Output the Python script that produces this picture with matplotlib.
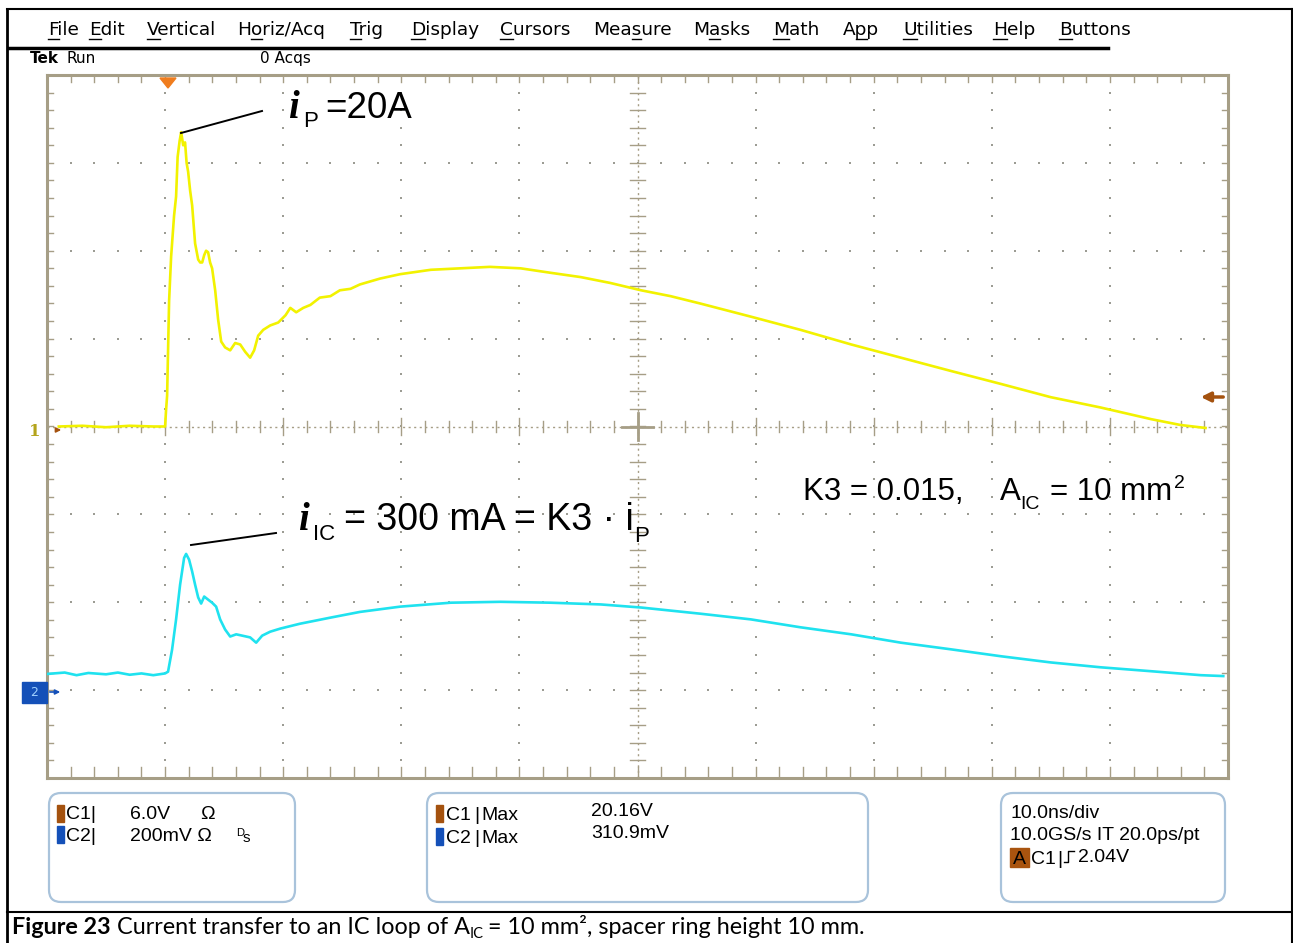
"""Oszilloskop-Screenshot nachgebaut: Stromuebertragung auf IC-Schleife (Figure 23)."""
import numpy as np
import matplotlib
matplotlib.use("Agg")
import matplotlib.pyplot as plt
from matplotlib.patches import FancyBboxPatch, Rectangle, Polygon
from matplotlib.font_manager import FontProperties

W, H = 1293, 943

c1_t = [-9.0, -7.0, -5.0, -3.0, -1.0, 0.0, 0.08, 0.17, 0.34, 0.51, 0.76, 0.93, 1.06, 1.23, 1.36,
        1.53, 1.69, 1.82, 1.95, 2.12, 2.29, 2.54, 2.80, 2.97, 3.14, 3.31, 3.47, 3.64, 3.81, 3.98,
        4.24, 4.49, 4.75, 5.08, 5.51, 5.93, 6.36, 6.78, 7.20, 7.54, 7.88, 8.31, 8.90, 9.58, 10.2,
        10.6, 11.1, 11.7, 12.3, 13.1, 14.0, 14.8, 15.7, 16.5, 18.2, 19.9, 22.5, 25.0, 27.5, 30.1,
        32.6, 35.2, 37.7, 40.3, 42.8, 45.3, 49.6, 53.8, 58.1, 62.3, 66.5, 70.8, 75.0, 79.2, 83.5,
        86.0, 88.1]
c1_v = [0.0, 0.05, -0.05, 0.05, 0.0, 0.0, 1.1, 2.1, 8.6, 11.6, 14.4, 15.7, 18.4, 19.5, 20.1,
        19.2, 19.4, 18.0, 17.4, 16.1, 15.1, 12.5, 11.4, 11.2, 11.2, 11.7, 12.0, 11.9, 11.2, 10.8,
        9.3, 7.3, 5.8, 5.4, 5.2, 5.7, 5.6, 5.1, 4.7, 5.2, 6.2, 6.6, 6.9, 7.1, 7.6,
        8.1, 7.8, 8.1, 8.3, 8.8, 8.9, 9.3, 9.4, 9.7, 10.1, 10.4, 10.7, 10.8, 10.9, 10.8,
        10.5, 10.2, 9.8, 9.3, 8.9, 8.4, 7.5, 6.6, 5.6, 4.7, 3.8, 2.9, 2.0, 1.3, 0.5,
        0.1, -0.1]

c2_t = [-9.9, -8.5, -7.5, -6.5, -5.0, -4.0, -3.0, -2.0, -1.0, 0.0, 0.25, 0.59, 0.93, 1.27, 1.61,
        1.78, 2.03, 2.29, 2.54, 2.80, 3.05, 3.31, 3.64, 3.98, 4.32, 4.66, 5.08, 5.51, 6.02, 6.53,
        7.20, 7.71, 8.22, 8.90, 9.75, 11.4, 14.0, 16.5, 19.9, 24.2, 28.4, 32.6, 36.9, 40.3, 45.3,
        49.6, 53.8, 58.1, 62.3, 66.5, 70.8, 75.0, 79.2, 83.5, 87.7, 89.6]
c2_mv = [37, 40, 34, 39, 36, 40, 35, 38, 34, 38, 42, 92, 161, 240, 301,
         310, 297, 270, 240, 211, 197, 213, 206, 199, 190, 161, 138, 122, 127, 124,
         120, 108, 124, 133, 140, 151, 165, 178, 190, 199, 201, 199, 195, 188, 174,
         161, 143, 127, 108, 93, 77, 63, 52, 43, 34, 32]

C1_SCALE, C2_SCALE = 6.0, 200.0      # V/div, mV/div
C2_POS = -3.0                         # div

menu = ["File", "Edit", "Vertical", "Horiz/Acq", "Trig", "Display", "Cursors", "Measure",
        "Masks", "Math", "App", "Utilities", "Help", "Buttons"]
menu_x = [48, 89, 147, 237, 350, 411, 500, 593, 693, 773, 843, 903, 993, 1059]
menu_ul = [0, 0, 0, 1, 0, 0, 0, 3, 1, 0, 1, 0, 0, 0]

BROWN = "#a4520f"
BLUE = "#1450b8"
GRID = "#9c9c94"
FRAME = "#a69e86"

fig = plt.figure(figsize=(W / 100, H / 100), dpi=100)
fig.patch.set_facecolor("white")
rend = fig.canvas.get_renderer()

ui = fig.add_axes([0, 0, 1, 1], zorder=0)
ui.set_xlim(0, W); ui.set_ylim(H, 0); ui.axis("off")


def fp(size, family="Liberation Sans", weight="normal", style="normal"):
    return FontProperties(family=family, size=size, weight=weight, style=style)


def chain(axis, x, y, pieces):
    """Textstuecke nebeneinander setzen: (text, FontProperties, dy, Abstand danach)."""
    for s, prop, dy, gap in pieces:
        axis.text(x, y + dy, s, fontproperties=prop, va="baseline", ha="left")
        x += rend.get_text_width_height_descent(s, prop, ismath=False)[0] + gap
    return x


# --- Rahmen / Menue ---
ui.plot([7, 7], [9, H], color="black", lw=2)
ui.plot([7, W], [9, 9], color="black", lw=1.5)
ui.plot([W - 1, W - 1], [9, H], color="black", lw=1.5)
ui.plot([7, W], [912, 912], color="black", lw=1.5)
ui.plot([9, 1108], [48, 48], color="black", lw=2.5)

mfont = fp(13.3, "DejaVu Sans")
for s, x, k in zip(menu, menu_x, menu_ul):
    ui.text(x, 35, s, fontproperties=mfont, va="baseline", ha="left")
    w0 = rend.get_text_width_height_descent(s[:k], mfont, ismath=False)[0] if k else 0
    w1 = rend.get_text_width_height_descent(s[:k + 1], mfont, ismath=False)[0]
    ui.plot([x + w0, x + w1], [38.5, 38.5], color="black", lw=1)

ui.text(30, 63, "Tek", fontsize=11, fontweight="bold", family="DejaVu Sans", va="baseline")
ui.text(66, 63, "Run", fontsize=11, family="DejaVu Sans", va="baseline")
ui.text(260, 63, "0 Acqs", fontsize=11, family="DejaVu Sans", va="baseline")

# --- Graticule ---
ax = fig.add_axes([47 / W, 1 - 778 / H, 1181 / W, 703 / H], zorder=1)
ax.set_facecolor("none")
ax.set_xlim(-10, 90); ax.set_ylim(-4, 4)
ax.set_xticks([]); ax.set_yticks([])
for sp in ax.spines.values():
    sp.set_color(FRAME); sp.set_linewidth(2.2)

ymin = np.arange(-4, 4.001, 0.2)
xmin = np.arange(-10, 90.001, 2)
for xv in range(0, 90, 10):
    if xv == 40:
        continue
    ax.plot([xv] * len(ymin), ymin, ls="none", marker="s", ms=1.5, mew=0, color=GRID)
for yv in range(-3, 4):
    if yv == 0:
        continue
    ax.plot(xmin, [yv] * len(xmin), ls="none", marker="s", ms=1.5, mew=0, color=GRID)

# Mittelachsen mit Teilstrichen
ax.plot([-10, 90], [0, 0], color=FRAME, lw=1, ls=(0, (1.5, 2.5)))
ax.plot([40, 40], [-4, 4], color=FRAME, lw=1, ls=(0, (1.5, 2.5)))
for xv in xmin:
    h = 0.1 if abs(xv / 10 - round(xv / 10)) < 1e-6 else 0.06
    ax.plot([xv, xv], [-h, h], color=FRAME, lw=1)
    ax.plot([xv, xv], [-4, -4 + 0.12], color=FRAME, lw=1)
    ax.plot([xv, xv], [4, 4 - 0.08], color=FRAME, lw=1)
for yv in ymin:
    ax.plot([40 - 0.6, 40 + 0.6], [yv, yv], color=FRAME, lw=1)
    ax.plot([-10, -9.5], [yv, yv], color=FRAME, lw=1)
    ax.plot([89.5, 90], [yv, yv], color=FRAME, lw=1)
ax.plot([38.7, 41.3], [0, 0], color=FRAME, lw=2)
ax.plot([40, 40], [-0.15, 0.15], color=FRAME, lw=2)

# --- Kurven ---
ax.plot(c1_t, np.array(c1_v) / C1_SCALE, color="#f2f200", lw=1.9, zorder=5)
ax.plot(c2_t, np.array(c2_mv) / C2_SCALE + C2_POS, color="#1fe2ef", lw=1.9, zorder=5)

# --- Marker ---
top = fig.add_axes([0, 0, 1, 1], zorder=3)
top.set_facecolor("none")
top.set_xlim(0, W); top.set_ylim(H, 0); top.axis("off")

top.text(35, 436, "1", fontsize=12, fontweight="bold", family="DejaVu Serif", color="#b4a41c",
         ha="center", va="baseline")
top.annotate("", xy=(64, 430), xytext=(53, 430),
             arrowprops=dict(arrowstyle="-|>", color=BROWN, lw=1.2, mutation_scale=7))
top.annotate("", xy=(1198, 397), xytext=(1226, 397),
             arrowprops=dict(arrowstyle="-|>", color=BROWN, lw=2.5, mutation_scale=14))
top.add_patch(Polygon([[160, 78], [176, 78], [168, 88]], closed=True, color="#f07d1e"))
top.add_patch(Rectangle((22, 682), 25, 21, color=BLUE))
top.text(34.5, 693, "2", fontsize=9, color="#9fd0ff", ha="center", va="center", family="DejaVu Sans")
top.annotate("", xy=(63, 692), xytext=(47, 692),
             arrowprops=dict(arrowstyle="-|>", color=BLUE, lw=1.2, mutation_scale=7))

# --- Beschriftungen im Schirm ---
ibi = fp(28, "Liberation Serif", "bold", "italic")
top.plot([181, 262], [133, 111], color="black", lw=1.4)
chain(top, 288, 118, [("i", ibi, 0, 4), ("P", fp(16), 9, 8), ("=20A", fp(26.5), 0, 0)])

top.plot([191, 276], [545, 533], color="black", lw=1.4)
chain(top, 298, 530, [("i", ibi, 0, 4), ("IC", fp(16), 10, 9),
                      ("= 300 mA = K3 \u00b7 i", fp(27), 0, 1), ("P", fp(16), 12, 0)])

chain(top, 803, 500, [("K3 = 0.015,", fp(22.5), 0, 36), ("A", fp(22.5), 0, 0),
                      ("IC", fp(14), 9, 10), ("= 10 mm", fp(22.5), 0, 2), ("2", fp(14), -12, 0)])

# --- Infoboxen ---
for x0, x1 in [(49, 295), (427, 868), (1001, 1225)]:
    ui.add_patch(FancyBboxPatch((x0, 793), x1 - x0, 109, boxstyle="round,pad=0,rounding_size=12",
                                fc="white", ec="#a9c3db", lw=1.6))

bf = fp(14)
ui.add_patch(Rectangle((57, 805), 7, 17, color=BROWN))
ui.add_patch(Rectangle((57, 826), 7, 17, color=BLUE))
ui.text(66, 819, "C1|", fontproperties=bf, va="baseline")
ui.text(66, 841, "C2|", fontproperties=bf, va="baseline")
ui.text(130, 819, "6.0V", fontproperties=bf, va="baseline")
ui.text(200, 819, "\u03a9", fontproperties=bf, va="baseline")
ui.text(130, 841, "200mV \u03a9", fontproperties=bf, va="baseline")
ui.text(236, 836, "D", fontproperties=fp(8), va="baseline")
ui.text(243, 842, "s", fontproperties=fp(11), va="baseline")

ui.add_patch(Rectangle((436, 805), 7, 17, color=BROWN))
ui.add_patch(Rectangle((436, 828), 7, 17, color=BLUE))
chain(ui, 446, 820, [("C1", bf, 0, 3), ("|", bf, 0, 2), ("Max", bf, 0, 0)])
chain(ui, 446, 843, [("C2", bf, 0, 3), ("|", bf, 0, 2), ("Max", bf, 0, 0)])
ui.text(591, 816, "20.16V", fontproperties=bf, va="baseline")
ui.text(591, 838, "310.9mV", fontproperties=bf, va="baseline")

ui.text(1010, 818, "10.0ns/div", fontproperties=bf, va="baseline")
ui.text(1010, 840, "10.0GS/s IT 20.0ps/pt", fontproperties=bf, va="baseline")
ui.add_patch(Rectangle((1010, 848), 19, 19, color="#a9540f"))
ui.text(1019.5, 864, "A", fontproperties=bf, va="baseline", ha="center")
xe = chain(ui, 1031, 864, [("C1", bf, 0, 1), ("|", bf, 0, 2)])
ui.plot([xe, xe + 4, xe + 4, xe + 10], [862, 862, 851, 851], color="black", lw=1)
ui.text(xe + 14, 862, "2.04V", fontproperties=bf, va="baseline")

# --- Bildunterschrift ---
cs = 16.8
chain(ui, 12, 934, [("Figure 23", fp(cs, "Lato", "bold"), 0, 6),
                    ("Current transfer to an IC loop of A", fp(cs, "Lato"), 0, 0),
                    ("IC", fp(10.5, "Lato"), 4, 4),
                    ("= 10 mm\u00b2, spacer ring height 10 mm.", fp(cs, "Lato"), 0, 0)])

fig.savefig("out.png", dpi=100)
